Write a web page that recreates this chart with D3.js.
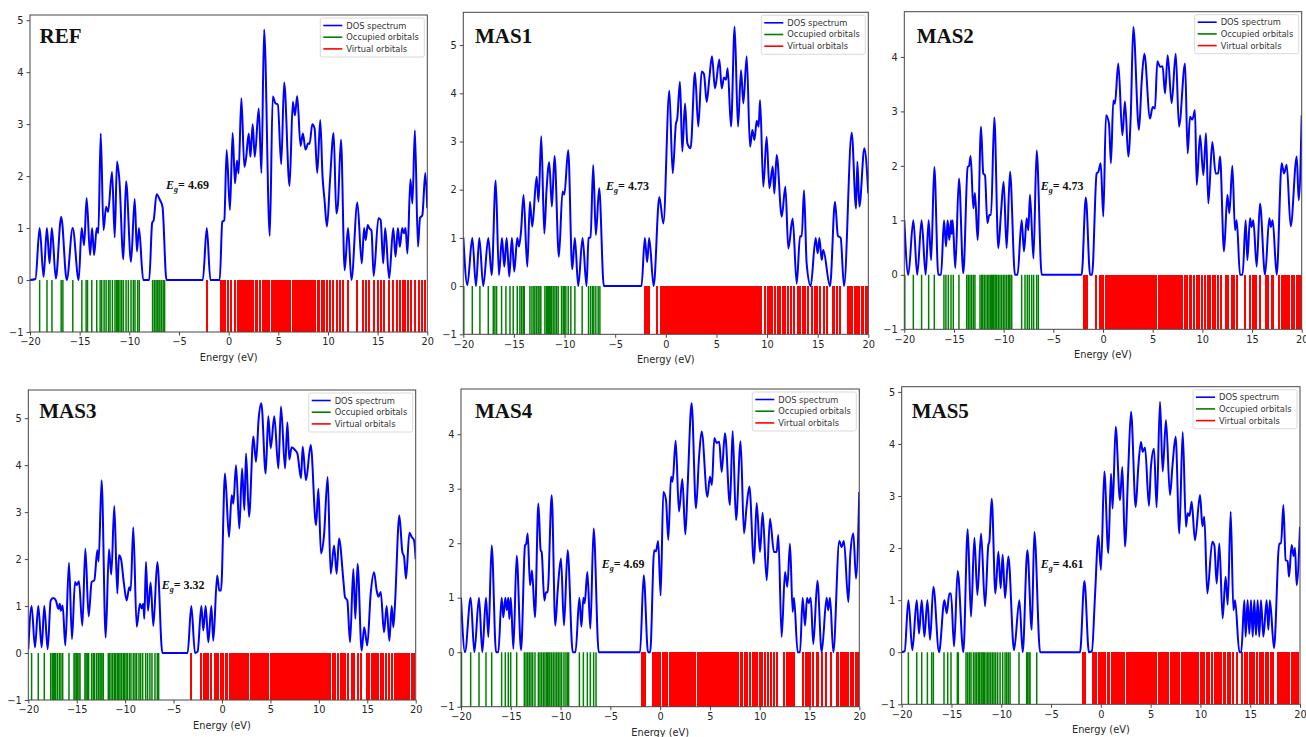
<!DOCTYPE html>
<html><head><meta charset="utf-8">
<script src="https://cdn.jsdelivr.net/npm/d3@7"></script>
<style>
body{margin:0;background:#fff;}
svg{display:block;}
</style></head><body>
<svg id="fig" width="1306" height="737"></svg>
<script>
// ---- panel names and band gaps (eV) ----
const titles = ["REF", "MAS1", "MAS2", "MAS3", "MAS4", "MAS5"];
const gapValues = ["4.69", "4.73", "4.73", "3.32", "4.69", "4.61"];
const gapLabelAt = [[-6.3, 1.75], [-5.9, 2.0], [-6.27, 1.56], [-6.23, 1.37], [-5.87, 1.54], [-6.04, 1.62]];
const yTops = [5.1, 5.68, 4.83, 5.6, 4.83, 5.1];
const xTicks = [-20, -15, -10, -5, 0, 5, 10, 15, 20];
const legendLabels = ["DOS spectrum", "Occupied orbitals", "Virtual orbitals"];

// ---- DOS spectra: [energy (eV), density] ----
const dosREF = [[-20,0],[-19.45,0.02],[-19.03,1.0],[-18.63,0.06],[-18.3,1.0],[-18.03,0.32],[-17.8,1.0],[-17.4,0.03],[-16.86,1.22],[-16.3,0.0],[-15.7,1.0],[-15.1,0.0],[-14.8,1.0],[-14.55,0.67],[-14.3,1.58],[-13.95,0.48],[-13.75,1.0],[-13.55,0.48],[-13.28,1.0],[-13.12,0.9],[-12.88,2.82],[-12.6,0.96],[-12.34,1.41],[-12.14,1.31],[-11.74,2.08],[-11.47,0.82],[-11.24,2.28],[-11.0,1.92],[-10.6,0.4],[-10.33,1.9],[-9.83,0.35],[-9.46,1.56],[-9.23,0.55],[-9.03,1.0],[-8.6,0],[-8.0,0],[-7.7,1.1],[-7.55,1.15],[-7.26,1.65],[-6.92,1.54],[-6.66,1.41],[-6.26,0],[-2.6,0],[-2.2,1.0],[-1.84,0],[-0.9,0],[-0.64,1.12],[-0.44,1.15],[-0.2,2.5],[0.13,1.35],[0.4,2.83],[0.64,1.86],[0.84,2.3],[1.0,2.05],[1.28,3.5],[1.58,2.18],[1.75,2.34],[2.02,2.82],[2.19,2.37],[2.42,3.0],[2.63,2.37],[3.03,3.3],[3.3,2.06],[3.57,4.82],[4.14,0.85],[4.44,3.53],[4.71,3.4],[4.95,3.38],[5.29,2.23],[5.59,3.8],[6.13,1.81],[6.46,3.43],[6.67,3.17],[6.9,3.54],[7.24,2.58],[7.47,2.82],[7.74,2.51],[8.01,2.63],[8.15,2.62],[8.42,3.0],[8.65,2.92],[8.92,2.06],[9.22,3.08],[9.45,2.0],[9.65,1.55],[9.9,1.03],[10.2,1.9],[10.57,2.83],[10.84,1.28],[11.0,1.45],[11.31,2.7],[11.68,0.19],[12.02,1.0],[12.36,0],[12.96,1.49],[13.4,0.32],[13.64,1.0],[13.8,0.77],[14.0,1.06],[14.15,1.0],[14.38,0.95],[14.6,0.08],[15.08,1.19],[15.3,1.16],[15.56,0.32],[15.76,1.0],[16.16,0.03],[16.57,1.0],[16.8,0.45],[17.04,1.0],[17.24,0.64],[17.47,1.0],[17.63,0.9],[17.81,1.0],[18.0,0.51],[18.3,1.94],[18.5,1.47],[18.75,2.88],[19.06,0.64],[19.26,1.19],[19.5,1.25],[19.8,2.06],[20,1.38]];

const dosMAS1 = [[-20,1.01],[-19.6,0.02],[-19.11,1.0],[-18.75,0],[-18.42,1.0],[-18.03,0],[-17.53,1.0],[-17.2,0.23],[-16.8,2.19],[-16.48,0.23],[-16.18,1.0],[-15.95,0.4],[-15.72,1.0],[-15.46,0.2],[-15.2,1.0],[-14.97,0.3],[-14.67,1.0],[-14.5,0.82],[-14.3,1.13],[-14.05,1.89],[-13.68,0.4],[-13.42,1.75],[-13.19,1.23],[-12.76,2.27],[-12.57,1.75],[-12.3,3.11],[-12.0,1.09],[-11.78,1.99],[-11.51,2.57],[-11.25,1.65],[-10.99,2.7],[-10.56,0.61],[-10.2,1.96],[-10.02,1.9],[-9.64,2.82],[-9.24,0.35],[-8.98,1.0],[-8.65,0],[-8.22,1.0],[-7.83,0],[-7.63,1.0],[-7.43,1.01],[-7.17,2.51],[-6.91,1.06],[-6.58,2.03],[-6.12,0],[-2.4,0],[-2.07,1.0],[-1.84,0.5],[-1.64,1.0],[-1.2,0],[-0.64,1.85],[-0.24,1.3],[0.35,4.05],[0.68,2.34],[1.0,3.37],[1.13,3.47],[1.4,4.24],[1.63,2.79],[1.9,3.79],[2.13,2.96],[2.45,2.86],[2.88,4.43],[3.21,3.31],[3.54,4.45],[3.77,4.4],[4.04,3.82],[4.3,4.31],[4.56,4.77],[4.86,4.1],[5.29,4.7],[5.52,4.1],[5.75,4.33],[5.95,4.28],[6.11,4.52],[6.44,3.31],[6.8,5.38],[7.13,3.31],[7.43,4.48],[7.66,3.79],[7.99,4.77],[8.32,2.89],[8.55,3.24],[8.75,3.03],[8.98,3.43],[9.17,3.31],[9.31,3.86],[9.63,2.06],[9.96,3.1],[10.23,2.03],[10.56,2.48],[10.72,1.92],[10.95,2.72],[11.45,1.44],[11.81,2.06],[12.1,0.78],[12.53,1.4],[12.93,0.05],[13.26,1.04],[13.43,1.03],[13.65,1.99],[13.91,0.47],[14.31,0],[14.8,1.0],[15.0,0.68],[15.17,1.0],[15.4,0.54],[15.55,0.75],[16.22,0],[16.71,1.75],[17.0,1.04],[17.27,1.0],[17.6,0],[18.36,3.18],[18.79,1.61],[18.92,2.58],[19.12,1.65],[19.61,2.86],[20,1.92]];

const dosMAS2 = [[-20,1.0],[-19.6,0],[-19.09,1.0],[-18.7,0],[-18.26,1.0],[-17.85,0],[-17.55,1.0],[-17.3,0.27],[-16.98,1.98],[-16.58,0],[-16.3,0],[-16.0,1.0],[-15.8,0.52],[-15.64,1.0],[-15.47,0.64],[-15.3,1.0],[-15.22,0.75],[-15.13,1.0],[-14.87,0.12],[-14.5,1.77],[-14.06,0.03],[-13.62,1.98],[-13.48,2.0],[-13.32,2.18],[-13.05,1.22],[-12.89,1.5],[-12.62,0.64],[-12.28,2.72],[-12.05,1.86],[-11.88,1.83],[-11.64,0.95],[-11.44,1.1],[-11.27,1.1],[-10.94,2.89],[-10.54,0.49],[-10.27,1.13],[-10.0,1.71],[-9.7,0.49],[-9.36,1.89],[-8.86,0],[-8.6,0],[-8.19,1.0],[-7.95,0.43],[-7.68,1.04],[-7.52,0.82],[-7.35,1.47],[-7.0,0.3],[-6.68,2.28],[-6.17,0],[-2.15,0],[-1.73,1.42],[-1.3,0],[-1.1,0],[-0.64,1.86],[-0.47,1.89],[-0.23,2.05],[0.03,1.07],[0.3,2.93],[0.6,2.78],[0.8,2.05],[1.04,3.2],[1.2,3.14],[1.54,3.88],[1.95,2.56],[2.21,3.18],[2.55,2.17],[2.8,2.95],[3.05,4.55],[3.62,2.66],[3.89,3.54],[4.16,4.06],[4.73,2.87],[5.0,3.08],[5.23,3.05],[5.47,3.92],[5.74,3.82],[6.0,3.83],[6.24,3.33],[6.51,4.03],[6.91,3.15],[7.32,4.06],[7.65,2.72],[8.26,3.88],[8.52,2.23],[8.76,2.9],[9.0,2.85],[9.26,3.02],[9.43,1.65],[9.77,2.56],[10.1,1.83],[10.37,2.6],[10.6,1.31],[11.0,2.44],[11.34,1.86],[11.6,1.86],[11.78,2.17],[12.18,0.43],[12.52,1.47],[12.72,1.13],[13.02,2.0],[13.29,0.82],[13.46,1.0],[13.79,0],[14.05,0],[14.36,1.0],[14.53,0.27],[14.8,1.04],[14.95,0.88],[15.13,1.0],[15.47,0.15],[15.8,1.31],[16.31,0],[16.74,1.04],[16.9,0.88],[17.08,1.0],[17.48,0],[17.99,2.05],[18.22,1.86],[18.49,2.02],[18.89,0.89],[19.5,2.17],[19.7,1.37],[20,2.93]];

const dosMAS3 = [[-20,0.08],[-19.66,1.0],[-19.31,0.12],[-18.97,1.0],[-18.62,0.12],[-18.35,1.0],[-18.0,0.08],[-17.69,1.12],[-17.42,1.17],[-17.15,1.12],[-16.9,0.94],[-16.75,1.05],[-16.65,0.9],[-16.45,1.01],[-16.18,0.16],[-15.8,1.92],[-15.49,0.3],[-15.18,1.51],[-15.0,1.45],[-14.77,1.53],[-14.42,0.58],[-14.11,2.22],[-13.77,0.78],[-13.46,1.51],[-13.18,1.55],[-12.87,2.19],[-12.74,1.95],[-12.43,3.68],[-12.01,0.33],[-11.67,2.21],[-11.43,1.67],[-11.12,3.13],[-10.81,1.27],[-10.64,2.08],[-10.43,2.0],[-10.12,1.47],[-9.85,1.12],[-9.57,1.4],[-9.43,1.33],[-9.16,2.68],[-8.81,0.56],[-8.47,1.05],[-8.3,0.95],[-8.13,1.05],[-8.02,0.73],[-7.85,1.94],[-7.64,0.9],[-7.37,1.5],[-7.09,0.58],[-6.68,1.94],[-6.16,0],[-3.55,0],[-3.17,1.0],[-2.79,0],[-2.52,0.03],[-2.13,1.0],[-1.93,0.48],[-1.69,1.0],[-1.41,0.23],[-1.1,1.0],[-0.9,0.26],[-0.5,1.65],[-0.28,1.33],[-0.1,1.33],[0.31,3.82],[0.72,2.47],[1.0,3.36],[1.17,3.18],[1.45,4.0],[1.79,2.65],[2.07,3.93],[2.31,3.04],[2.48,4.25],[2.79,2.9],[3.24,4.61],[3.51,4.07],[3.79,5.0],[4.06,5.32],[4.51,3.82],[4.78,5.04],[5.03,4.36],[5.4,5.04],[5.82,3.93],[6.09,5.25],[6.51,3.93],[6.75,4.91],[6.95,4.12],[7.19,4.38],[7.54,4.32],[7.78,4.25],[8.16,3.72],[8.33,4.39],[8.67,3.68],[9.16,4.43],[9.71,2.72],[9.95,3.5],[10.22,2.12],[10.53,2.5],[10.91,3.75],[11.22,1.69],[11.57,2.29],[11.84,1.69],[12.08,2.44],[12.53,1.55],[12.7,1.19],[12.94,1.12],[13.22,0.23],[13.56,1.79],[13.77,0.73],[14.0,1.9],[14.42,0.05],[14.68,0.55],[15.0,0.16],[15.35,1.26],[15.7,1.72],[15.97,1.33],[16.15,1.2],[16.39,1.3],[16.73,0.44],[17.0,1.0],[17.28,0.26],[17.52,1.0],[17.69,0.55],[17.85,1.0],[18.31,2.93],[18.62,2.15],[18.8,2.05],[19.0,1.58],[19.35,2.56],[19.59,2.47],[19.83,2.4],[20,2.0]];

const dosMAS4 = [[-20,1.0],[-19.6,0],[-19.03,1.0],[-18.66,0],[-18.19,1.0],[-17.86,0],[-17.49,1.0],[-17.25,0.28],[-16.92,1.96],[-16.48,0],[-16.25,0],[-15.92,1.0],[-15.75,0.64],[-15.55,1.0],[-15.4,0.77],[-15.25,1.0],[-15.15,0.61],[-15.0,1.0],[-14.74,0.06],[-14.41,1.77],[-13.97,0.04],[-13.57,1.96],[-13.45,1.99],[-13.3,2.18],[-13.07,1.23],[-12.87,1.5],[-12.57,0.64],[-12.23,2.73],[-12.0,1.87],[-11.9,1.84],[-11.63,0.95],[-11.46,1.1],[-11.3,1.1],[-10.89,2.88],[-10.53,0.49],[-10.29,1.13],[-9.96,1.72],[-9.66,0.49],[-9.29,1.87],[-8.78,0],[-8.5,0],[-8.11,1.0],[-7.91,0.47],[-7.71,1.0],[-7.58,0.9],[-7.31,1.47],[-7.01,0.43],[-6.68,2.27],[-6.17,0],[-2.02,0],[-1.65,1.41],[-1.22,0],[-1.0,0],[-0.6,1.87],[-0.42,1.85],[-0.2,2.04],[0.05,1.04],[0.32,2.94],[0.59,2.79],[0.82,2.06],[1.09,3.22],[1.25,3.13],[1.56,3.88],[1.89,2.58],[2.23,3.18],[2.53,2.16],[2.76,3.04],[3.16,4.57],[3.6,2.64],[3.9,3.56],[4.17,4.05],[4.74,2.85],[5.0,3.22],[5.2,3.07],[5.44,3.93],[5.67,3.84],[5.93,3.86],[6.18,3.31],[6.51,4.02],[7.01,2.7],[7.28,4.06],[7.62,2.42],[8.08,3.87],[8.42,2.18],[8.68,2.67],[8.96,3.04],[9.42,1.63],[9.69,2.74],[10.03,1.84],[10.29,2.56],[10.7,1.32],[11.03,2.45],[11.43,1.84],[11.7,1.84],[11.87,2.15],[12.2,0.28],[12.54,1.47],[12.77,1.2],[13.04,1.99],[13.31,0.74],[13.44,1.0],[13.81,0],[14.05,0],[14.31,1.0],[14.55,0.49],[14.75,1.0],[14.92,0.9],[15.12,1.0],[15.38,0.15],[15.79,1.31],[16.22,0],[16.72,1.0],[16.88,0.77],[17.06,1.0],[17.39,0],[17.99,2.04],[18.22,1.93],[18.46,2.04],[18.9,0.92],[19.1,1.8],[19.4,2.18],[19.67,1.35],[20,2.94]];

const dosMAS5 = [[-20,0],[-19.7,0.02],[-19.33,1.0],[-18.93,0.04],[-18.49,1.0],[-18.26,0.36],[-17.99,1.0],[-17.72,0.3],[-17.42,1.0],[-17.15,0.24],[-16.82,1.26],[-16.25,0],[-15.71,1.0],[-15.48,0.75],[-15.21,1.13],[-15.05,1.13],[-14.74,0.11],[-14.38,1.56],[-13.81,0],[-13.37,2.36],[-13.04,0.68],[-12.7,2.2],[-12.4,1.1],[-12.03,2.28],[-11.63,0.88],[-11.3,2.06],[-11.2,2.12],[-10.96,2.95],[-10.59,1.13],[-10.29,1.93],[-10.06,1.23],[-9.86,1.87],[-9.62,1.04],[-9.29,1.84],[-8.72,0.04],[-8.18,1.0],[-7.85,0],[-7.38,1.96],[-6.94,0.43],[-6.68,2.31],[-6.1,0],[-2.09,0],[-1.65,1.37],[-1.2,0],[-0.9,0.02],[-0.59,1.07],[-0.25,2.24],[0.01,1.58],[0.35,3.47],[0.75,1.9],[1.02,3.43],[1.18,2.76],[1.49,4.33],[1.92,2.92],[2.16,3.56],[2.42,2.03],[2.75,3.5],[3.03,4.62],[3.5,2.79],[3.76,3.56],[4.03,4.04],[4.2,3.85],[4.44,3.93],[4.83,2.81],[5.03,3.56],[5.34,3.91],[5.6,2.78],[5.94,4.81],[6.21,3.47],[6.54,4.46],[6.94,3.02],[7.2,3.6],[7.51,4.14],[7.88,2.28],[8.22,4.23],[8.55,2.41],[8.72,2.67],[8.9,2.62],[9.12,2.89],[9.45,2.15],[9.96,3.02],[10.2,2.42],[10.39,2.6],[10.69,1.13],[11.19,2.12],[11.4,2.05],[11.63,1.32],[11.9,2.09],[12.23,0.65],[12.53,1.45],[12.74,0.91],[13.04,2.7],[13.31,0.81],[13.48,1.0],[13.91,0],[14.1,0],[14.41,1.0],[14.54,0.3],[14.74,1.0],[14.91,0.35],[15.08,1.0],[15.25,0.3],[15.41,1.0],[15.58,0.33],[15.75,1.0],[15.91,0.3],[16.08,1.0],[16.32,0.3],[16.65,1.0],[16.82,0.43],[16.98,1.0],[17.39,0.08],[17.92,2.09],[18.1,2.09],[18.33,2.83],[18.56,1.77],[18.75,1.75],[18.9,1.45],[19.16,2.06],[19.35,1.85],[19.5,2.0],[19.66,1.29],[20,2.41]];

// ---- occupied orbital energies (eV) ----
const occREF = [-19.03,-18.29,-17.79,-16.86,-16.69,-15.69,-14.78,-14.35,-14.21,-13.78,-13.28,-12.94,-12.78,-12.54,-12.34,-12.1,-11.94,-11.7,-11.44,-11.27,-11.2,-11.1,-10.94,-10.77,-10.6,-10.33,-10.1,-9.83,-9.6,-9.43,-9.16,-9.0,-7.66,-7.49,-7.32,-7.19,-7.02,-6.92,-6.76,-6.59,-6.45];
const occMAS1 = [-19.95,-19.11,-18.36,-17.53,-17.04,-16.88,-16.71,-16.22,-15.79,-15.39,-15.07,-14.67,-14.41,-14.24,-14.08,-13.98,-13.42,-13.22,-13.03,-12.93,-12.76,-12.6,-12.43,-12.34,-11.94,-11.78,-11.71,-11.61,-11.51,-11.45,-11.35,-11.28,-11.12,-10.95,-10.79,-10.63,-10.3,-10.13,-10.03,-9.87,-9.64,-9.38,-8.98,-8.26,-7.63,-7.43,-7.24,-7.11,-6.91,-6.68,-6.51];
const occMAS2 = [-19.95,-19.09,-18.26,-17.55,-16.98,-16.01,-15.81,-15.57,-15.3,-15.07,-14.5,-13.72,-13.56,-13.39,-13.22,-13.05,-12.89,-12.38,-12.21,-12.11,-11.95,-11.78,-11.61,-11.48,-11.34,-11.21,-11.11,-11.01,-10.87,-10.77,-10.7,-10.54,-10.37,-10.2,-10.03,-9.87,-9.7,-9.53,-9.43,-9.36,-9.19,-8.19,-7.85,-7.62,-7.42,-7.18,-6.98,-6.68,-6.51];
const occMAS3 = [-19.66,-18.97,-18.35,-17.69,-17.52,-17.42,-17.31,-17.18,-17.0,-16.8,-16.63,-16.45,-15.8,-15.28,-15.18,-15.04,-14.94,-14.77,-14.66,-14.15,-14.04,-13.91,-13.77,-13.46,-13.29,-13.15,-12.94,-12.77,-12.6,-12.5,-12.39,-12.25,-11.74,-11.64,-11.46,-11.29,-11.12,-10.98,-10.81,-10.67,-10.53,-10.36,-10.19,-10.09,-9.91,-9.78,-9.57,-9.4,-9.16,-8.98,-8.81,-8.57,-8.4,-8.19,-7.88,-7.68,-7.44,-7.23,-6.92,-6.68,-6.54];
const occMAS4 = [-19.95,-19.03,-18.19,-17.49,-16.92,-15.92,-15.55,-15.25,-15.01,-14.41,-13.64,-13.47,-13.3,-13.14,-12.97,-12.8,-12.57,-12.23,-12.07,-11.9,-11.73,-11.57,-11.4,-11.3,-11.17,-11.07,-10.9,-10.73,-10.56,-10.39,-10.23,-10.06,-9.89,-9.66,-9.46,-9.29,-9.19,-8.11,-7.71,-7.31,-7.01,-6.68,-6.44];
const occMAS5 = [-19.33,-18.49,-17.99,-17.42,-16.99,-16.82,-15.75,-15.38,-15.05,-14.41,-14.31,-13.54,-13.37,-13.2,-13.04,-12.8,-12.63,-12.47,-12.3,-12.2,-12.03,-11.93,-11.8,-11.7,-11.53,-11.36,-11.23,-11.06,-10.89,-10.73,-10.56,-10.36,-10.12,-9.86,-9.62,-9.45,-9.29,-9.12,-8.22,-7.45,-7.35,-7.21,-7.11,-6.44];

// ---- virtual orbital energies (eV) ----
const virtREF = [-2.2,-0.75,-0.6,-0.33,-0.05,0.28,0.6,0.9,1.02,1.28,1.4,1.68,1.84,2.0,2.3,2.42,2.72,2.88,3.18,3.48,3.64,3.8,3.9,4.11,4.32,4.49,4.66,4.83,5.0,5.17,5.34,5.51,5.68,5.85,5.99,6.22,6.45,6.62,6.79,6.96,7.13,7.3,7.47,7.64,7.81,7.98,8.15,8.32,8.49,8.66,8.97,9.1,9.38,9.52,9.62,9.92,10.23,10.55,10.88,11.22,11.52,11.99,12.93,13.54,13.87,14.14,14.61,15.05,15.35,15.66,16.16,16.57,16.97,17.24,17.51,17.74,18.08,18.35,18.75,19.19,19.43,19.76];
const virtMAS1 = [-2.07,-1.84,-1.64,-0.84,-0.5,-0.36,-0.22,0.06,0.2,0.34,0.55,0.76,0.93,1.1,1.27,1.44,1.61,1.78,1.95,2.12,2.29,2.46,2.63,2.8,2.97,3.14,3.31,3.48,3.65,3.82,3.99,4.16,4.33,4.5,4.67,4.84,5.01,5.18,5.35,5.52,5.69,5.86,6.03,6.2,6.37,6.54,6.71,6.88,7.05,7.22,7.39,7.56,7.73,7.9,8.07,8.24,8.41,8.58,8.75,8.92,9.09,9.26,9.45,9.8,10.12,10.29,10.45,10.75,11.04,11.18,11.3,11.53,11.78,12.07,12.32,12.66,13.09,13.26,13.59,13.75,14.08,14.47,14.74,14.9,15.23,15.63,15.9,16.49,16.65,16.88,17.21,18.03,18.2,18.43,18.69,18.85,19.12,19.35,19.51,19.78,19.94];
const virtMAS2 = [-1.88,-1.72,-1.57,-0.7,-0.35,-0.18,-0.05,0.35,0.52,0.67,0.95,1.12,1.29,1.46,1.63,1.8,1.97,2.14,2.31,2.48,2.76,2.93,3.1,3.27,3.44,3.58,3.86,4.03,4.2,4.37,4.54,4.71,4.88,5.05,5.22,5.36,5.64,5.81,5.98,6.15,6.32,6.49,6.66,6.83,7.0,7.17,7.34,7.51,7.68,7.85,7.95,8.23,8.36,8.46,8.74,8.89,9.17,9.46,9.71,9.97,10.3,10.57,10.82,11.05,11.3,11.57,11.85,12.35,12.62,12.95,13.19,13.46,14.3,14.8,15.07,15.23,15.4,15.8,16.38,16.64,16.98,17.15,17.75,17.99,18.22,18.39,18.56,18.76,18.99,19.26,19.5,19.73,19.93];
const virtMAS3 = [-3.17,-2.13,-1.86,-1.69,-1.41,-1.1,-0.75,-0.66,-0.42,-0.14,0.0,0.14,0.42,0.55,0.83,0.99,1.15,1.31,1.47,1.63,1.72,2.0,2.16,2.32,2.48,2.64,2.68,2.96,3.12,3.28,3.44,3.6,3.76,3.92,4.08,4.24,4.4,4.56,4.72,4.75,5.03,5.19,5.35,5.51,5.67,5.83,5.99,6.15,6.31,6.47,6.63,6.79,6.95,7.11,7.27,7.43,7.59,7.75,7.91,8.07,8.23,8.39,8.55,8.71,8.87,9.03,9.19,9.35,9.51,9.67,9.83,9.99,10.15,10.31,10.47,10.63,10.79,10.95,11.11,11.19,11.45,11.7,11.98,12.24,12.48,12.73,13.01,13.39,13.63,14.08,14.32,14.94,15.22,15.46,15.7,15.9,16.14,16.39,16.66,16.94,17.25,17.52,17.87,18.04,18.21,18.38,18.55,18.73,18.9,19.07,19.31,19.59,19.83];
const virtMAS4 = [-1.8,-1.65,-1.52,-0.75,-0.66,-0.38,-0.22,-0.06,0.01,0.29,0.45,0.61,0.68,0.96,1.12,1.28,1.44,1.6,1.76,1.92,2.08,2.24,2.35,2.63,2.79,2.95,3.11,3.27,3.43,3.53,3.81,3.97,4.13,4.29,4.45,4.61,4.77,4.93,5.09,5.25,5.41,5.57,5.73,5.89,6.05,6.21,6.37,6.53,6.69,6.85,7.01,7.17,7.33,7.49,7.65,7.81,8.09,8.21,8.49,8.65,8.72,9.02,9.33,9.49,9.75,10.0,10.16,10.22,10.5,10.56,10.85,11.17,11.45,11.77,12.44,12.71,12.87,13.04,13.21,13.44,14.31,14.65,14.88,15.05,15.32,15.72,15.89,16.22,16.66,17.12,17.73,17.89,18.13,18.33,18.56,18.73,18.9,19.13,19.4,19.64,19.9];
const virtMAS5 = [-1.82,-1.68,-1.6,-0.76,-0.6,-0.49,-0.22,0.05,0.21,0.37,0.44,0.72,0.84,1.12,1.28,1.44,1.6,1.76,1.92,2.08,2.24,2.35,2.63,2.79,2.95,3.11,3.27,3.43,3.59,3.75,3.91,4.07,4.23,4.39,4.55,4.71,4.87,5.03,5.19,5.35,5.53,5.81,5.97,6.13,6.29,6.45,6.61,6.74,7.02,7.18,7.34,7.5,7.66,7.8,7.87,8.15,8.31,8.47,8.63,8.79,8.95,9.11,9.21,9.49,9.62,9.75,10.03,10.19,10.32,10.62,10.91,11.17,11.43,11.68,11.88,12.1,12.37,12.49,12.77,12.93,13.0,13.26,13.64,14.14,14.48,14.71,14.98,15.14,15.38,15.65,15.98,16.15,16.32,16.58,16.82,17.05,17.32,17.82,17.99,18.16,18.4,18.6,18.77,18.94,19.17,19.33,19.5,19.67,19.83];

const dosSets = [dosREF, dosMAS1, dosMAS2, dosMAS3, dosMAS4, dosMAS5];
const occSets = [occREF, occMAS1, occMAS2, occMAS3, occMAS4, occMAS5];
const virtSets = [virtREF, virtMAS1, virtMAS2, virtMAS3, virtMAS4, virtMAS5];

// ---- page layout: plot frame of each panel (px) and title offset ----
const frames = [
  {x0: 30,    x1: 427.3,  y0: 15,    y1: 332,   tx: 9.5,  ty: 28},
  {x0: 463.3, x1: 868.3,  y0: 12.3,  y1: 334.3, tx: 11.7, ty: 30.4},
  {x0: 904.3, x1: 1301.7, y0: 11.7,  y1: 329.3, tx: 12.4, ty: 31},
  {x0: 28.3,  x1: 415.7,  y0: 390,   y1: 700,   tx: 11,   ty: 28.3},
  {x0: 461,   x1: 859.3,  y0: 389,   y1: 706.7, tx: 14,   ty: 29.3},
  {x0: 901.7, x1: 1300,   y0: 386.7, y1: 704.3, tx: 10,   ty: 31.6}
];

const COL_DOS = "#0000ff", COL_OCC = "#008000", COL_VIRT = "#ff0000";
const TICK_FONT = "'DejaVu Sans', sans-serif";
const SERIF = "'Liberation Serif', 'Times New Roman', serif";

const svg = d3.select("#fig");
const defs = svg.append("defs");

titles.forEach((title, i) => {
  const f = frames[i];
  const x = d3.scaleLinear().domain([-20, 20]).range([f.x0, f.x1]);
  const y = d3.scaleLinear().domain([-1, yTops[i]]).range([f.y1, f.y0]);
  const g = svg.append("g");

  defs.append("clipPath").attr("id", "clip" + i)
    .append("rect").attr("x", f.x0).attr("y", f.y0)
    .attr("width", f.x1 - f.x0).attr("height", f.y1 - f.y0);
  const plot = g.append("g").attr("clip-path", `url(#clip${i})`);

  // orbital sticks from 0 down to -1
  plot.append("g")
    .selectAll("line").data(occSets[i]).join("line")
    .attr("x1", d => x(d)).attr("x2", d => x(d))
    .attr("y1", y(0)).attr("y2", y(-1))
    .attr("stroke", COL_OCC).attr("stroke-width", 1.5);
  plot.append("g").attr("shape-rendering", "crispEdges")
    .selectAll("line").data(virtSets[i]).join("line")
    .attr("x1", d => x(d)).attr("x2", d => x(d))
    .attr("y1", y(0)).attr("y2", y(-1))
    .attr("stroke", COL_VIRT).attr("stroke-width", 2);

  // broadened DOS curve
  const line = d3.line().x(d => x(d[0])).y(d => y(d[1])).curve(d3.curveMonotoneX);
  plot.append("path").datum(dosSets[i])
    .attr("d", line).attr("fill", "none")
    .attr("stroke", COL_DOS).attr("stroke-width", 2)
    .attr("stroke-linejoin", "round");

  // axes
  const yTickVals = d3.range(-1, Math.floor(yTops[i]) + 1);
  const ax = g.append("g").attr("transform", `translate(0,${f.y1})`)
    .call(d3.axisBottom(x).tickValues(xTicks).tickFormat(d3.format("d")).tickSize(3.5).tickPadding(3));
  const ay = g.append("g").attr("transform", `translate(${f.x0},0)`)
    .call(d3.axisLeft(y).tickValues(yTickVals).tickFormat(d3.format("d")).tickSize(3.5).tickPadding(3));
  [ax, ay].forEach(a => {
    a.select(".domain").remove();
    a.selectAll(".tick line").attr("stroke", "#333").attr("stroke-width", 0.9);
    a.selectAll(".tick text").attr("fill", "#262626")
      .style("font-family", TICK_FONT).style("font-size", "9.8px");
  });

  // frame
  g.append("rect").attr("x", f.x0).attr("y", f.y0)
    .attr("width", f.x1 - f.x0).attr("height", f.y1 - f.y0)
    .attr("fill", "none").attr("stroke", "#444").attr("stroke-width", 1);

  // x label
  g.append("text").attr("x", (f.x0 + f.x1) / 2).attr("y", f.y1 + 29)
    .attr("text-anchor", "middle").attr("fill", "#262626")
    .style("font-family", TICK_FONT).style("font-size", "9.8px")
    .text("Energy (eV)");

  // panel title
  g.append("text").attr("x", f.x0 + f.tx).attr("y", f.y0 + f.ty)
    .attr("fill", "#111").style("font-family", SERIF)
    .style("font-weight", "bold").style("font-size", "21px")
    .text(title);

  // band gap annotation
  const eg = g.append("text")
    .attr("x", x(gapLabelAt[i][0])).attr("y", y(gapLabelAt[i][1]))
    .attr("fill", "#111").style("font-family", SERIF)
    .style("font-weight", "bold").style("font-size", "12px");
  eg.append("tspan").style("font-style", "italic").text("E");
  eg.append("tspan").style("font-style", "italic").style("font-size", "8px").attr("dy", 3).text("g");
  eg.append("tspan").attr("dy", -3).text("= " + gapValues[i]);

  // legend
  const lw = 104, lh = 39;
  const lg = g.append("g").attr("transform", `translate(${f.x1 - 3 - lw},${f.y0 + 3})`);
  lg.append("rect").attr("width", lw).attr("height", lh).attr("rx", 2)
    .attr("fill", "#fff").attr("fill-opacity", 0.85)
    .attr("stroke", "#d0d0d0").attr("stroke-width", 0.8);
  [COL_DOS, COL_OCC, COL_VIRT].forEach((c, k) => {
    const yy = 7.5 + k * 11.7;
    lg.append("line").attr("x1", 3).attr("x2", 22).attr("y1", yy).attr("y2", yy)
      .attr("stroke", c).attr("stroke-width", 1.6);
    lg.append("text").attr("x", 26).attr("y", yy + 3)
      .attr("fill", "#333").style("font-family", TICK_FONT).style("font-size", "8.3px")
      .text(legendLabels[k]);
  });
});
</script>
</body></html>
